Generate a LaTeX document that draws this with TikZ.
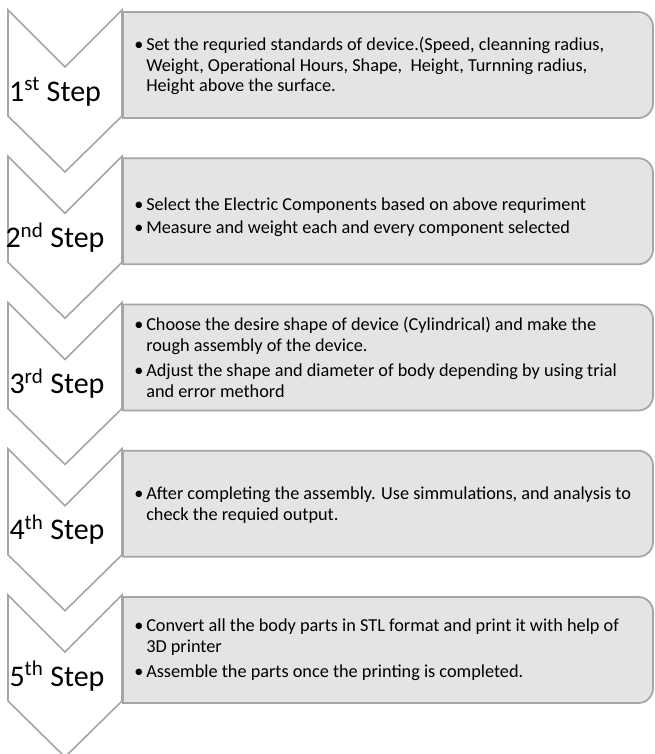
\documentclass[tikz,border=0pt]{standalone}
\usepackage{fontspec}
\setmainfont{Carlito}
\usepackage{tikz}
\usetikzlibrary{calc}

\definecolor{lineGray}{HTML}{A5A5A5}
\definecolor{fillGray}{HTML}{E4E4E4}

% one chevron, top edge at #1
\newcommand{\chevron}[1]{%
  \draw [chev] (8,#1) -- (65,#1+57) -- (122,#1) -- (122,#1+106)
    -- (65,#1+162) -- (8,#1+106) -- cycle;}
% one text box, square on the left, rounded on the right
\newcommand{\infobox}[1]{%
  \draw [infobox] (123,#1+108) -- (123,#1+2) -- (400,#1+2)
    [rounded corners=11pt] -- (653,#1+2) -- (653,#1+108) -- (400,#1+108)
    [sharp corners] -- cycle;}
\newcommand{\bul}{\makebox[9pt][l]{\textbullet}}
\newcommand{\hang}{\hspace*{9pt}}

\begin{document}
\begin{tikzpicture}[x=0.75pt,y=-0.75pt,
  chev/.style={
    draw=lineGray,
    line width=1.2pt,
    fill=white,
    line join=miter
  },
  infobox/.style={
    draw=lineGray,
    line width=1.3pt,
    fill=fillGray
  },
  lab/.style={
    anchor=base,
    inner sep=0pt,
    font=\fontsize{22.5}{26}\selectfont
  },
  info/.style={
    anchor=west,
    align=left,
    inner sep=0pt,
    font=\fontsize{13.7}{15.6}\selectfont
  }
  ]

  \useasboundingbox (0,0) rectangle (654,754);

  \pgfmathsetmacro{\ya}{10}
  \pgfmathsetmacro{\yb}{156.25}
  \pgfmathsetmacro{\yc}{302.5}
  \pgfmathsetmacro{\yd}{448.75}
  \pgfmathsetmacro{\ye}{595}

  \infobox{\ya}
  \infobox{\yb}
  \infobox{\yc}
  \infobox{\yd}
  \infobox{\ye}

  \chevron{\ya}
  \chevron{\yb}
  \chevron{\yc}
  \chevron{\yd}
  \chevron{\ye}

  \node [lab] (step1) at (55,\ya+91) {1\textsuperscript{st} Step};
  \node [lab] (step2) at (55,\yb+91) {2\textsuperscript{nd} Step};
  \node [lab] (step3) at (57,\yc+91) {3\textsuperscript{rd} Step};
  \node [lab] (step4) at (57,\yd+91) {4\textsuperscript{th} Step};
  \node [lab] (step5) at (57,\ye+91) {5\textsuperscript{th} Step};

  \node [info] (txt1) at (134,\ya+56) {%
    \bul Set the requried standards of device.(Speed, cleanning radius,\\
    \hang Weight, Operational Hours, Shape,\ \ Height, Turnning radius,\\
    \hang Height above the surface.};
  \node [info] (txt2) at (134,\yb+61) {%
    \bul Select the Electric Components based on above requriment\\[1pt]
    \bul Measure and weight each and every component selected};
  \node [info] (txt3) at (134,\yc+55) {%
    \bul Choose the desire shape of device (Cylindrical) and make the\\
    \hang rough assembly of the device.\\[3pt]
    \bul Adjust the shape and diameter of body depending by using trial\\
    \hang and error methord};
  \node [info] (txt4) at (134,\yd+56) {%
    \bul After completing the assembly. Use simmulations, and analysis to\\
    \hang check the requied output.};
  \node [info] (txt5) at (134,\ye+55) {%
    \bul Convert all the body parts in STL format and print it with help of\\
    \hang 3D printer\\[3pt]
    \bul Assemble the parts once the printing is completed.};

\end{tikzpicture}
\end{document}
